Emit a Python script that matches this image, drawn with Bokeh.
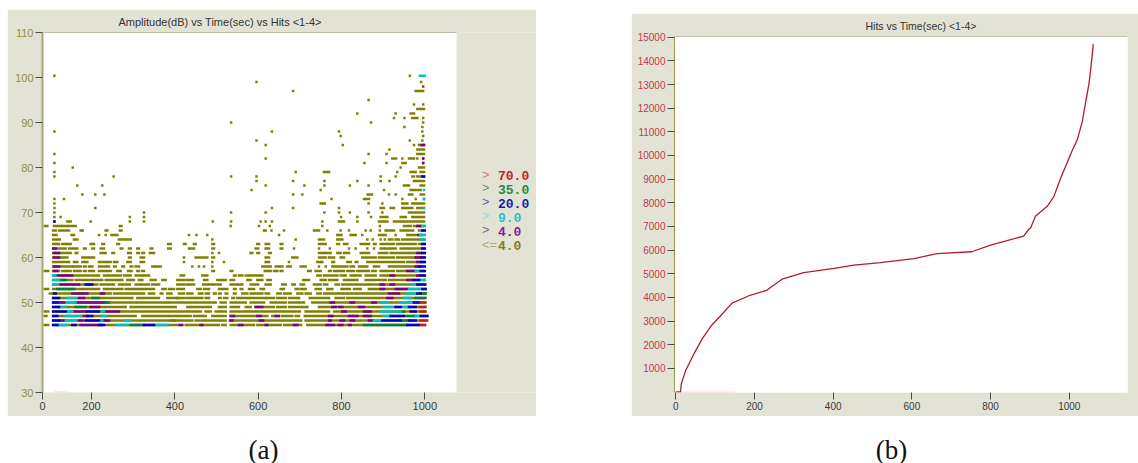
from bokeh.plotting import figure
from bokeh.layouts import column, row
from bokeh.models import Range1d, FixedTicker, Span, Title
from bokeh.embed import file_html
from bokeh.resources import INLINE
from bokeh.core.properties import value

# ---------- panel (a): amplitude rows, runs of points as (first time, last time)
olive_45 = [(88,96),(108,410),(426,506),(514,522),(534,590),(598,654),(662,703),(718,1001)]
olive_46 = [(108,400),(390,442),(450,522),(532,606),(610,703),(714,1006)]
olive_47 = [(88,92),(108,306),(322,406),(410,438),(446,474),(490,522),(534,622),(634,650),(658,682),(690,698),(712,1006)]
olive_48 = [(88,96),(108,462),(474,486),(498,522),(534,700),(714,770),(782,1002)]
olive_49 = [(108,282),(294,402),(430,486),(506,522),(534,554),(570,582),(594,638),(646,666),(674,718),(746,1002)]
olive_50 = [(108,306),(310,382),(386,498),(510,522),(534,570),(582,614),(630,666),(674,710),(730,1002)]
olive_51 = [(108,298),(310,362),(382,406),(406,422),(428,446),(450,466),(474,482),(506,510),(518,526),(538,542),(550,578),(582,618),(622,638),(646,666),(674,698),(724,770),(786,806),(814,1002)]
olive_52 = [(100,182),(190,246),(254,326),(338,350),(366,370),(382,392),(410,422),(430,442),(458,466),(474,482),(494,498),(506,510),(522,526),(542,546),(562,574),(582,610),(618,626),(646,654),(662,678),(694,706),(714,726),(742,750),(758,1002)]
olive_53 = [(88,96),(108,218),(230,274),(282,350),(370,378),(386,398),(406,422),(454,462),(470,482),(506,526),(542,546),(558,562),(578,590),(606,614),(654,662),(690,696),(702,714),(738,750),(766,778),(800,820),(830,846),(866,1002)]
olive_54 = [(108,134),(140,214),(222,254),(266,292),(306,338),(346,362),(406,422),(428,446),(468,478),(482,490),(494,510),(534,562),(582,600),(618,630),(658,666),(682,688),(702,710),(734,750),(758,766),(786,794),(802,866),(870,1002)]
olive_55 = [(108,126),(132,154),(162,202),(206,226),(234,274),(286,302),(314,322),(342,354),(370,378),(406,422),(428,444),(470,478),(502,510),(514,522),(534,542),(574,582),(598,610),(622,630),(708,722),(750,762),(770,790),(806,838),(858,906),(914,998)]
olive_56 = [(108,118),(122,218),(230,270),(278,294),(306,322),(326,338),(414,422),(466,478),(542,546),(554,562),(570,578),(582,610),(742,750),(758,790),(798,810),(822,846),(858,882),(894,998)]
olive_57 = [(88,96),(108,122),(130,150),(158,174),(182,186),(194,206),(218,246),(262,270),(288,296),(310,314),(322,326),(490,494),(534,538),(616,630),(638,646),(654,658),(720,726),(738,750),(770,774),(782,806),(814,830),(838,866),(874,882),(894,906),(910,926),(934,998)]
olive_58 = [(108,154),(158,174),(182,186),(194,202),(218,234),(238,242),(254,258),(274,278),(294,298),(306,314),(346,350),(354,366),(442,442),(458,458),(470,470),(490,490),(610,630),(642,650),(654,658),(670,678),(702,714),(746,746),(762,762),(778,814),(822,830),(842,862),(878,890),(914,990)]
olive_59 = [(108,146),(158,166),(178,190),(218,234),(238,246),(254,262),(286,294),(318,326),(422,422),(490,490),(518,518),(618,626),(674,674),(742,750),(754,754),(778,782),(814,822),(834,838),(862,950),(958,998)]
olive_60 = [(108,118),(122,126),(130,142),(178,206),(290,294),(318,326),(422,422),(450,462),(468,478),(490,494),(618,626),(682,694),(746,762),(770,782),(798,806),(850,882),(890,926),(934,998)]
olive_61 = [(108,150),(162,166),(222,234),(250,254),(288,294),(310,314),(322,326),(340,350),(490,490),(506,506),(582,586),(598,602),(626,630),(746,774),(790,798),(806,818),(846,866),(890,910),(918,958),(962,998)]
olive_62 = [(108,126),(132,138),(146,166),(182,186),(202,206),(222,230),(270,274),(290,294),(310,314),(342,346),(384,390),(434,446),(490,494),(594,600),(618,626),(654,658),(686,686),(746,746),(772,772),(818,818),(834,834),(862,862),(878,878),(894,902),(906,930),(942,998)]
olive_63 = [(108,122),(130,138),(142,150),(198,206),(226,230),(262,266),(384,390),(422,426),(446,450),(490,494),(598,602),(618,626),(654,658),(746,762),(790,794),(806,814),(846,866),(878,882),(894,926),(934,978),(986,998)]
olive_64 = [(108,124),(158,166),(266,294),(490,490),(690,690),(746,758),(790,802),(862,862),(875,875),(894,894),(904,904),(914,922),(930,938),(946,982),(986,998)]
olive_65 = [(108,116),(152,158),(218,218),(234,234),(248,262),(434,434),(452,452),(478,478),(650,650),(790,800),(822,834),(850,850),(890,906),(930,930),(958,978),(986,998)]
olive_66 = [(108,114),(122,146),(174,178),(234,234),(268,272),(178,178),(238,238),(614,614),(618,618),(632,632),(662,662),(734,746),(766,766),(798,798),(818,818),(858,858),(870,870),(892,892),(906,926),(942,966),(972,972),(986,998)]
olive_67 = [(88,94),(110,126),(130,142),(146,162),(268,272),(534,534),(602,602),(628,628),(754,754),(892,892),(950,966),(974,986),(990,998)]
olive_68 = [(111,111),(142,150),(198,198),(292,292),(326,326),(491,491),(535,535),(606,606),(618,618),(633,633),(754,754),(794,806),(838,838),(890,910),(926,998)]
olive_69 = [(111,111),(126,126),(292,292),(326,326),(799,799),(838,838),(871,871),(894,910),(942,954),(970,998)]
olive_70 = [(111,111),(326,326),(535,535),(618,618),(759,759),(794,794),(820,820),(865,865),(898,898),(962,998)]
olive_71 = [(111,111),(209,209),(633,633),(684,684),(794,794),(894,902),(918,926),(946,970),(982,998)]
olive_72 = [(111,111),(750,760),(865,865),(898,898),(946,958),(970,998)]
olive_73 = [(111,111),(134,134),(776,776),(854,866),(946,946),(978,978),(998,998)]
olive_74 = [(178,178),(209,209),(231,231),(684,684),(706,706),(863,873),(914,914),(930,930),(962,970),(990,998)]
olive_75 = [(584,584),(750,750),(902,902),(966,990)]
olive_76 = [(166,166),(226,226),(618,618),(711,711),(759,759),(820,820),(865,865),(950,962),(990,998)]
olive_77 = [(596,596),(684,684),(759,759),(838,838),(894,894),(915,915),(974,998)]
olive_78 = [(111,111),(253,253),(535,535),(596,596),(894,894),(930,930),(970,974),(982,998)]
olive_79 = [(111,111),(690,690),(758,770),(934,934),(966,978),(990,998)]
olive_80 = [(155,155),(942,942),(986,998)]
olive_81 = [(111,111),(855,855),(908,908),(946,954),(996,996)]
olive_82 = [(618,618),(922,931),(946,946),(962,974),(982,982),(996,996)]
olive_83 = [(111,111),(865,865),(908,908),(982,998)]
olive_84 = [(915,915),(982,998)]
olive_85 = [(618,618),(803,803),(974,974),(986,998)]
olive_86 = [(596,596),(964,964),(994,994)]
olive_87 = [(798,798),(996,996)]
olive_88 = [(111,111),(633,633),(794,794),(994,994)]
olive_89 = [(951,951),(994,994)]
olive_90 = [(535,535),(871,871),(996,996)]
olive_91 = [(926,926),(951,951),(970,982),(996,996)]
olive_92 = [(838,838),(930,930),(966,974)]
olive_93 = [(982,998)]
olive_94 = [(974,974),(996,996)]
olive_95 = [(865,865)]
olive_97 = [(684,684),(978,996)]
olive_99 = [(596,596),(991,991)]
olive_100 = [(111,111),(964,964)]

olive_rows = [45,46,47,48,49,50,51,52,53,54,55,56,57,58,59,60,61,62,63,64,65,66,67,68,69,70,71,72,73,74,75,76,77,78,79,80,81,82,83,84,85,86,87,88,89,90,91,92,93,94,95,97,99,100.4]
olive_runs = [olive_45,olive_46,olive_47,olive_48,olive_49,olive_50,olive_51,olive_52,olive_53,olive_54,olive_55,olive_56,olive_57,olive_58,olive_59,olive_60,olive_61,olive_62,olive_63,olive_64,olive_65,olive_66,olive_67,olive_68,olive_69,olive_70,olive_71,olive_72,olive_73,olive_74,olive_75,olive_76,olive_77,olive_78,olive_79,olive_80,olive_81,olive_82,olive_83,olive_84,olive_85,olive_86,olive_87,olive_88,olive_89,olive_90,olive_91,olive_92,olive_93,olive_94,olive_95,olive_97,olive_99,olive_100]

# coloured hits: (dB, first time, last time)
purple_hits = [(45,174,222),(45,412,418),(45,462,466),(45,554,562),(45,618,622),(45,686,694),(45,764,782),(45,794,802),(45,818,822),
 (46,122,138),(46,170,178),(46,226,242),(46,534,538),(46,604,612),(46,770,774),(46,798,806),(46,822,830),(46,866,874),
 (47,182,190),(47,534,542),(47,598,606),(47,642,650),(47,770,778),(47,818,838),(47,854,870),
 (48,154,186),(48,230,266),(48,802,810),(48,854,870),
 (49,198,218),(49,594,610),(49,778,786),(49,794,802),(49,842,854),
 (50,122,134),(50,162,234),(50,774,782),(50,822,830),(50,874,882),
 (51,170,182),(51,910,922),(52,154,190),(52,222,230),(52,914,938),
 (53,894,902),(53,930,958),(54,126,170),(54,894,902),(54,918,926),
 (55,958,970),(56,114,154),(56,918,926),(56,982,986),(57,110,118),(57,958,978),
 (58,110,122),(58,978,986),(59,982,990),(60,110,122),(60,978,990),(61,110,122),(61,982,990),(62,108,114),
 (65,984,990),(67,982,990),(85,992,998),(82,996,996),(81,996,996)]
blue_hits = [(45,108,118),(45,154,162),(45,218,230),(45,326,350),(45,958,986),
 (46,108,122),(46,186,218),(46,898,942),(46,962,978),
 (47,108,118),(47,190,202),(47,918,950),(47,990,1006),
 (48,108,138),(48,190,218),(48,966,978),
 (49,108,122),(49,930,942),(49,962,978),
 (50,108,118),(50,974,986),(51,108,122),(52,110,114),(52,982,990),(53,994,1002),
 (54,186,202),(54,982,1000),(55,974,986),(56,990,1000),(57,990,1000),(58,986,1000),(59,992,1000),(60,992,1000),(61,994,1000),
 (62,994,1000),(63,994,1000),(66,994,1000),(78,994,998),(68,111,111)]
cyan_hits = [(45,118,142),(45,262,286),(45,350,382),(46,138,162),(46,218,226),(46,282,294),(46,878,894),
 (47,138,174),(47,226,234),(47,902,918),(47,978,990),
 (48,142,154),(48,222,230),(48,894,910),(48,914,942),
 (49,122,138),(49,902,922),(49,950,958),
 (50,142,162),(50,894,910),(50,942,970),
 (51,142,162),(51,950,966),(52,958,978),(53,962,990),(54,108,114),(54,970,982),(55,108,122),(55,988,1000),(56,108,114),(57,978,986),
 (64,990,1000),(65,988,1000),(67,994,1000),(100.4,988,1000),(75,998,998),(73,998,998),(71,998,998)]
green_hits = [(45,294,326),(45,854,958),(46,942,962),(47,958,978),(48,938,950),(49,162,186),(50,234,242),(51,202,218),(51,978,1000),(52,992,1002),(53,118,158),(55,122,138)]
red_hits = [(45,990,1000),(46,990,1004),(48,990,1000),(49,988,1000),(50,990,1000),(98,996,996)]

a_xticks = [82.4, 200, 400, 600, 800, 1000]
a_xlabels = ["0", "200", "400", "600", "800", "1000"]
a_yticks = [30, 40, 50, 60, 70, 80, 90, 100, 110]
legend_marks = [">", ">", ">", ">", ">", "<="]
legend_values = ["70.0", "35.0", "20.0", "9.0", "4.0", "4.0"]

# ---------- panel (b): cumulative hits
time_b = [0,12,14,25,46,67,90,118,143,186,231,270,325,402,453,520,605,664,752,800,884,897,902,914,944,961,978,1008,1020,1033,1041,1050,1056,1061]
hits_b = [0,0,350,910,1610,2245,2800,3300,3760,4070,4300,4770,5050,5230,5360,5470,5640,5850,5930,6210,6590,6870,6940,7430,7850,8270,9040,10230,10650,11420,12190,13030,13870,14710]
b_xticks = [0, 200, 400, 600, 800, 1000]
b_yticks = [1000,2000,3000,4000,5000,6000,7000,8000,9000,10000,11000,12000,13000,14000,15000]

BG = "#e3e3d5"
COL = dict(olive="#808000", purple="#800080", blue="#0000c8", cyan="#00c0c8", green="#008040", red="#d01818")
FONT = "Liberation Sans"


def style(p, ycolor, size):
    p.outline_line_color = None
    p.grid.visible = False
    p.border_fill_color = BG
    for ax_ in (p.xaxis[0], p.yaxis[0]):
        ax_.major_label_text_font = FONT
        ax_.major_label_text_font_size = size
        ax_.minor_tick_line_color = None
        ax_.major_tick_in = 0
        ax_.major_tick_out = 7
        ax_.major_tick_line_color = "#4a4a4a"
        ax_.major_label_standoff = 2
    p.xaxis[0].axis_line_color = None
    p.xaxis[0].major_label_text_color = "#3a3a3a"
    p.yaxis[0].major_label_text_color = ycolor
    p.yaxis[0].axis_line_color = "#a8a878"


def top_title(text, offset, size, standoff):
    return Title(text=text, align="left", offset=offset, standoff=standoff, text_font=FONT,
                 text_font_size=size, text_font_style="normal", text_color="#333333")


# pixel helpers for panel a's frame (the frame spans the grey strip on the right, for the legend)
def ax(px): return 2.4 * px - 18.4
def ay(py): return 110 - (py - 32) / 4.5


# ---------- figure a
a = figure(width=529, height=407, output_backend="svg", toolbar_location=None,
           x_range=Range1d(82.4, ax(536)), y_range=Range1d(30, 110),
           min_border_left=35, min_border_right=0, min_border_top=23, min_border_bottom=24,
           margin=(9, 0, 0, 7), title=top_title("Amplitude(dB) vs Time(sec) vs Hits <1-4>", 76, "11px", 9))
style(a, "#8f8f40", "11px")
a.background_fill_color = BG
a.quad(left=[82.4], right=[ax(456)], bottom=[30], top=[110], color="white", line_color=None)
a.segment([82.4], [110], [ax(456)], [110], line_color="#8a8a70", line_width=1)
a.yaxis[0].axis_line_width = 2
a.xaxis[0].ticker = FixedTicker(ticks=a_xticks)
a.xaxis[0].major_label_overrides = dict(zip(a_xticks, a_xlabels))
a.yaxis[0].ticker = FixedTicker(ticks=a_yticks)

HALF = 3.0
BAR = 0.56
ol_y, ol_l, ol_r = [], [], []
for db, runs in zip(olive_rows, olive_runs):
    for s, e in runs:
        ol_y.append(db); ol_l.append(s - HALF); ol_r.append(e + HALF)
a.hbar(y=ol_y, left=ol_l, right=ol_r, height=BAR, color=COL["olive"], line_color=None)
for name, hits in (("purple", purple_hits), ("green", green_hits), ("cyan", cyan_hits), ("blue", blue_hits), ("red", red_hits)):
    a.hbar(y=[h[0] for h in hits], left=[h[1] - HALF for h in hits], right=[h[2] + HALF for h in hits],
           height=BAR, color=COL[name], line_color=None)
a.segment([110], [30.1], [142], [30.1], line_color="#f6c4c4", line_width=1)

leg_y = [175, 188.5, 202.5, 216.5, 230.5, 245]
leg_col = ["#c82030", "#1f8a4c", "#1a1ab0", "#30c0c8", "#8a1a9a", "#8a7a20"]
leg_pale = ["#e07080", "#609080", "#6060a8", "#90dde0", "#806090", "#b0a870"]
a.text(x=[ax(481.5)] * 6, y=[ay(v) for v in leg_y], text=legend_marks, text_color=leg_pale,
       text_font=value("Liberation Mono"), text_font_size="12.5px", text_baseline="middle", text_align="left")
a.text(x=[ax(497.5)] * 6, y=[ay(v) for v in leg_y], text=legend_values, text_color=leg_col,
       text_font=value("Liberation Mono"), text_font_size="13px", text_font_style="bold",
       text_baseline="middle", text_align="left")

# ---------- figure b
b = figure(width=507, height=403, output_backend="svg", toolbar_location=None,
           x_range=Range1d(-3.3, 1148), y_range=Range1d(-21, 15030),
           min_border_left=43, min_border_right=11, min_border_top=23, min_border_bottom=22,
           margin=(13, 0, 0, 95), title=top_title("Hits vs Time(sec) <1-4>", 191, "10.5px", 9))
style(b, "#c03a50", "10px")
b.background_fill_color = "white"
b.add_layout(Span(location=15030, dimension="width", line_color="#8a8a70", line_width=1))
b.yaxis[0].axis_line_color = "#9a9a50"
b.xaxis[0].ticker = FixedTicker(ticks=b_xticks)
b.yaxis[0].ticker = FixedTicker(ticks=b_yticks)
b.segment([12], [-10], [150], [-10], line_color="#f6c4c4", line_width=1)
b.line(time_b, hits_b, line_color="#b01c30", line_width=1.3)

# ---------- captions under the panels
cap = figure(width=1138, height=47, output_backend="svg", toolbar_location=None,
             x_range=Range1d(0, 1138), y_range=Range1d(463, 416), min_border=0)
cap.axis.visible = False
cap.grid.visible = False
cap.outline_line_color = None
cap.text(x=[263, 891], y=[449, 449], text=["(a)", "(b)"], text_font=value("Liberation Serif"),
         text_font_size="27px", text_align="center", text_baseline="middle", text_color="#111111")

page = column(row(a, b), cap)
open("out.html", "w").write(file_html(page, INLINE))
